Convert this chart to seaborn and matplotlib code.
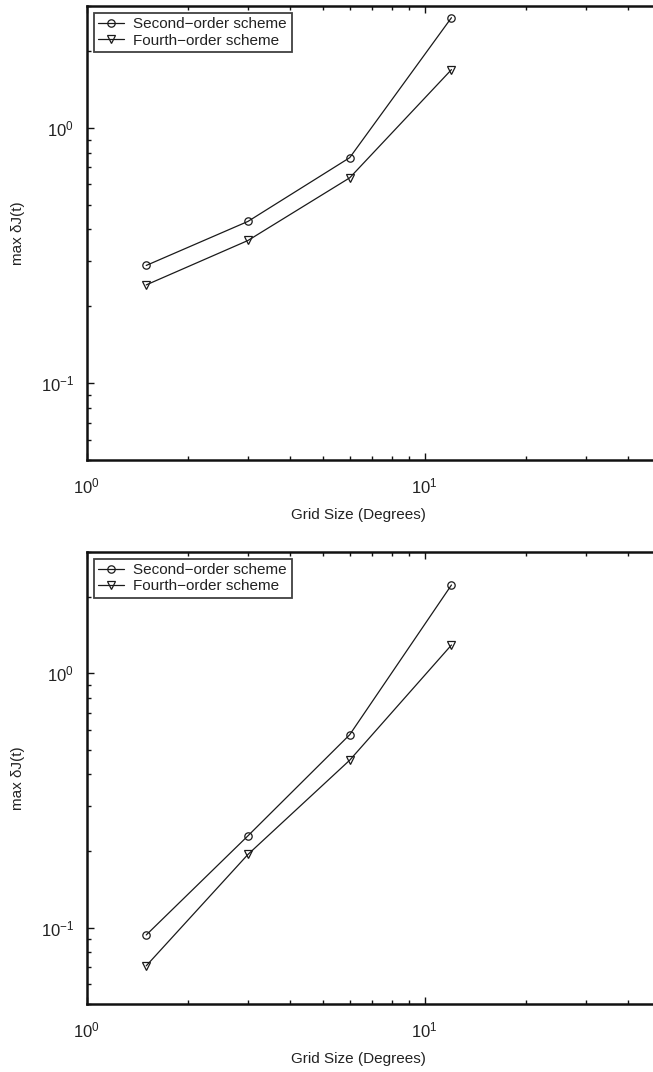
import numpy as np
import pandas as pd
import matplotlib
matplotlib.use("Agg")
import matplotlib.pyplot as plt
import seaborn as sns
from matplotlib.ticker import LogLocator, NullFormatter

# ---- data ----
grid_size = [1.5, 3, 6, 12]
top_second = [0.289, 0.430, 0.764, 2.70]
top_fourth = [0.2425, 0.362, 0.637, 1.69]
bottom_second = [0.0936, 0.2296, 0.573, 2.22]
bottom_fourth = [0.0708, 0.194, 0.455, 1.29]
series_labels = ["Second\u2212order scheme", "Fourth\u2212order scheme"]
xlabel = "Grid Size (Degrees)"
ylabel = "max \u03b4J(t)"

sns.set_theme(style="ticks")
plt.rcParams["font.family"] = ["Liberation Sans", "DejaVu Sans"]
plt.rcParams["mathtext.fontset"] = "custom"
plt.rcParams["mathtext.rm"] = "Liberation Sans"

W, H = 653, 1072
fig = plt.figure(figsize=(W / 100, H / 100), dpi=100)

left_px = 86.7
decade_x = 338.0
panels = [
    (6, 460, top_second, top_fourth),
    (551.7, 1004.3, bottom_second, bottom_fourth),
]

for top_px, bot_px, s2, s4 in panels:
    ax = fig.add_axes([left_px / W, 1 - bot_px / H, 1 - left_px / W, (bot_px - top_px) / H])
    df = pd.DataFrame({
        "x": grid_size * 2,
        "y": list(s2) + list(s4),
        "scheme": [series_labels[0]] * len(s2) + [series_labels[1]] * len(s4),
    })
    for lab, mk, ms in zip(series_labels, ["o", "v"], [5.3, 6.0]):
        sub = df[df["scheme"] == lab]
        sns.lineplot(data=sub, x="x", y="y", ax=ax, color="#1a1a1a", lw=0.9,
                     marker=mk, ms=ms, mec="#1a1a1a", mew=0.9, mfc="none",
                     label=lab, estimator=None, sort=False)
    for ln in ax.lines:
        ln.set_markerfacecolor("none")
    ax.set_xscale("log")
    ax.set_yscale("log")
    ax.set_xlim(1, 10 ** ((W - left_px) / decade_x))
    ax.set_ylim(0.05, 3.0)
    ax.xaxis.set_major_locator(LogLocator(base=10, numticks=10))
    ax.yaxis.set_major_locator(LogLocator(base=10, numticks=10))
    ax.xaxis.set_minor_locator(LogLocator(base=10, subs=np.arange(2, 10), numticks=20))
    ax.yaxis.set_minor_locator(LogLocator(base=10, subs=np.arange(2, 10), numticks=20))
    ax.xaxis.set_minor_formatter(NullFormatter())
    ax.yaxis.set_minor_formatter(NullFormatter())
    ax.tick_params(which="both", direction="in", top=True, right=False, colors="#111111",
                   labelsize=12, width=1.0, labelcolor="#222222")
    ax.tick_params(which="major", length=5)
    ax.tick_params(which="minor", length=3)
    ax.tick_params(axis="x", which="major", pad=12)
    ax.tick_params(axis="y", which="major", pad=9)
    for sp in ["left", "top", "bottom"]:
        ax.spines[sp].set_linewidth(1.8)
        ax.spines[sp].set_color("#111111")
    ax.spines["right"].set_visible(False)
    ax.set_xlabel(xlabel, fontsize=11, color="#222222")
    ax.set_ylabel(ylabel, fontsize=11, color="#222222")
    ax.xaxis.set_label_coords((358 - left_px) / (W - left_px), -0.105)
    ax.yaxis.set_label_coords((25 - left_px) / (W - left_px), 0.5)
    leg = ax.legend(loc="upper left", fontsize=11, frameon=True, fancybox=False,
                    borderaxespad=0.45, handlelength=1.7, handletextpad=0.6,
                    borderpad=0.3, labelspacing=0.15)
    leg.get_frame().set_edgecolor("#111111")
    leg.get_frame().set_linewidth(1.3)
    for t in leg.get_texts():
        t.set_color("#222222")
    for h in leg.legend_handles:
        h.set_markerfacecolor("none")

fig.savefig("out.png", dpi=100)
